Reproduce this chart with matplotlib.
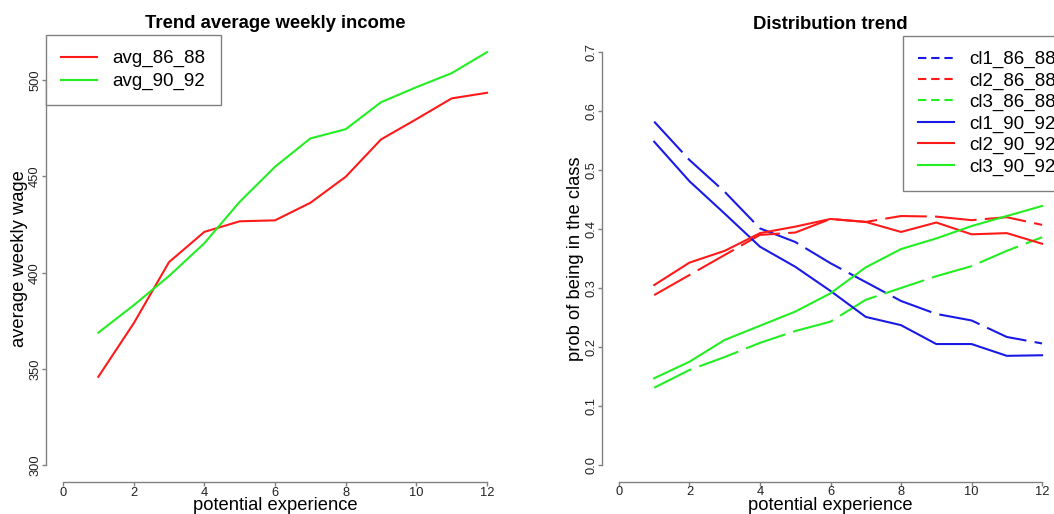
import matplotlib
matplotlib.use("Agg")
import matplotlib.pyplot as plt
from matplotlib.lines import Line2D

plt.rcParams['font.family'] = ['Liberation Sans', 'DejaVu Sans']
plt.rcParams['lines.scale_dashes'] = False

# ---- data ----
experience = [1, 2, 3, 4, 5, 6, 7, 8, 9, 10, 11, 12]

avg_86_88 = [346, 373.7, 405.5, 421.2, 426.7, 427.2, 436.3, 449.8, 469.2, 479.7, 490.5, 493.4]
avg_90_92 = [368.9, 383.1, 398.3, 415.3, 436.8, 455.0, 469.7, 474.5, 488.5, 496.3, 503.6, 514.5]

cl1_86_88 = [0.582, 0.517, 0.463, 0.401, 0.378, 0.342, 0.310, 0.278, 0.256, 0.245, 0.217, 0.206]
cl2_86_88 = [0.288, 0.322, 0.356, 0.390, 0.394, 0.417, 0.412, 0.422, 0.421, 0.415, 0.420, 0.407]
cl3_86_88 = [0.131, 0.161, 0.183, 0.207, 0.227, 0.243, 0.280, 0.300, 0.320, 0.337, 0.363, 0.386]
cl1_90_92 = [0.548, 0.481, 0.426, 0.370, 0.336, 0.295, 0.251, 0.237, 0.205, 0.205, 0.185, 0.186]
cl2_90_92 = [0.305, 0.343, 0.363, 0.393, 0.404, 0.417, 0.412, 0.395, 0.411, 0.391, 0.393, 0.375]
cl3_90_92 = [0.147, 0.175, 0.212, 0.236, 0.260, 0.291, 0.335, 0.366, 0.384, 0.405, 0.422, 0.439]

xticks = [0, 2, 4, 6, 8, 10, 12]
left_yticks = [300, 350, 400, 450, 500]
right_yticks = [0.0, 0.1, 0.2, 0.3, 0.4, 0.5, 0.6, 0.7]

RED = '#ff1a1a'
GREEN = '#22ee22'
BLUE = '#1a1ae6'
AXC = '#808080'

W, H = 1054, 514
fig = plt.figure(figsize=(W / 100, H / 100), dpi=100)

def px_axes(x0, y0, x1, y1):
    return fig.add_axes([x0 / W, 1 - y1 / H, (x1 - x0) / W, (y1 - y0) / H])

def style(ax, ybounds, yticks, ylabels):
    for s in ['top', 'right']:
        ax.spines[s].set_visible(False)
    for s in ['left', 'bottom']:
        ax.spines[s].set_color(AXC)
        ax.spines[s].set_linewidth(1.0)
    ax.spines['bottom'].set_bounds(0, 12)
    ax.spines['left'].set_bounds(*ybounds)
    ax.set_xticks(xticks)
    ax.set_xticklabels([str(t) for t in xticks])
    ax.set_yticks(yticks)
    ax.set_yticklabels(ylabels, rotation=90, va='center')
    ax.tick_params(axis='both', length=3, width=1, color=AXC, labelsize=9.3,
                   labelcolor='#222222')
    ax.tick_params(axis='x', pad=0.5)
    ax.tick_params(axis='y', pad=0.5)
    ax.set_xlabel('potential experience', fontsize=13.2, labelpad=-1)

# ---- left panel ----
ax1 = px_axes(46, 34.6, 504, 482)
ax1.set_xlim(-0.48, 12.48)
ax1.set_ylim(291.4, 523.6)
lw = 1.5
ax1.plot(experience, avg_86_88, color=RED, lw=lw)
ax1.plot(experience, avg_90_92, color=GREEN, lw=lw)
style(ax1, (300, 500), left_yticks, [str(t) for t in left_yticks])
ax1.set_ylabel('average weekly wage', fontsize=13.2, labelpad=1)
ax1.set_title('Trend average weekly income', fontsize=13.3, fontweight='bold', pad=5)
leg1 = ax1.legend(handles=[Line2D([], [], color=RED, lw=lw),
                           Line2D([], [], color=GREEN, lw=lw)],
                  labels=['avg_86_88', 'avg_90_92'],
                  loc='upper left', bbox_to_anchor=(46 / W, 1 - 35 / H),
                  bbox_transform=fig.transFigure, borderaxespad=0,
                  fontsize=13.5, handlelength=1.9, handletextpad=0.85,
                  labelspacing=0.3, borderpad=0.8, fancybox=False,
                  framealpha=1, edgecolor=AXC)
leg1.get_frame().set_linewidth(1.0)

# ---- right panel ----
ax2 = px_axes(602, 35.5, 1059, 481.5)
ax2.set_xlim(-0.48, 12.48)
ax2.set_ylim(-0.028, 0.728)
dash_plot = (0, (30, 6))
ax2.plot(experience, cl1_86_88, color=BLUE, lw=lw, linestyle=dash_plot)
ax2.plot(experience, cl2_86_88, color=RED, lw=lw, linestyle=dash_plot)
ax2.plot(experience, cl3_86_88, color=GREEN, lw=lw, linestyle=dash_plot)
ax2.plot(experience, cl1_90_92, color=BLUE, lw=lw)
ax2.plot(experience, cl2_90_92, color=RED, lw=lw)
ax2.plot(experience, cl3_90_92, color=GREEN, lw=lw)
style(ax2, (0.0, 0.7), right_yticks, ['%.1f' % t for t in right_yticks])
ax2.set_ylabel('prob of being in the class', fontsize=13.2, labelpad=1)
ax2.set_title('Distribution trend', fontsize=13.3, fontweight='bold', pad=5)
dash_leg = (0, (6, 3.5))
handles2 = [Line2D([], [], color=BLUE, lw=lw, linestyle=dash_leg),
            Line2D([], [], color=RED, lw=lw, linestyle=dash_leg),
            Line2D([], [], color=GREEN, lw=lw, linestyle=dash_leg),
            Line2D([], [], color=BLUE, lw=lw),
            Line2D([], [], color=RED, lw=lw),
            Line2D([], [], color=GREEN, lw=lw)]
labels2 = ['cl1_86_88', 'cl2_86_88', 'cl3_86_88', 'cl1_90_92', 'cl2_90_92', 'cl3_90_92']
leg2 = ax2.legend(handles=handles2, labels=labels2,
                  loc='upper left', bbox_to_anchor=(903 / W, 1 - 36 / H),
                  bbox_transform=fig.transFigure, borderaxespad=0,
                  fontsize=13.5, handlelength=1.9, handletextpad=0.85,
                  labelspacing=0.22, borderpad=0.8, fancybox=False,
                  framealpha=1, edgecolor=AXC)
leg2.get_frame().set_linewidth(1.0)

fig.savefig('out.png', dpi=100)
